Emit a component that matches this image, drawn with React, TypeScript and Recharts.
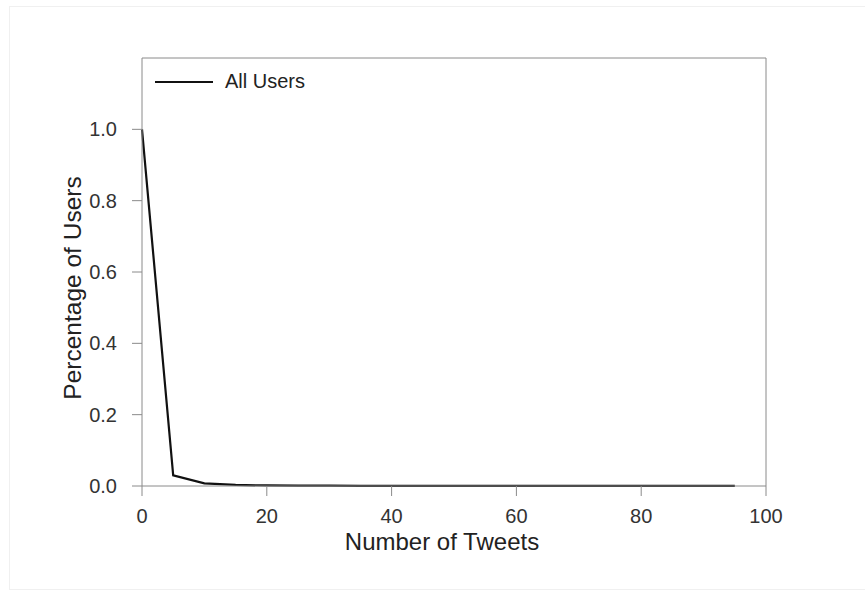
import React from "react";
import {
  LineChart,
  Line,
  XAxis,
  YAxis,
  ReferenceLine,
} from "recharts";

const tweetCounts = [0, 5, 10, 15, 20, 25, 30, 35, 40, 45, 50, 55, 60, 65, 70, 75, 80, 85, 90, 95];
const allUsers = [
  1.0, 0.03, 0.0075, 0.003, 0.0015, 0.001, 0.0008, 0.0006, 0.0005, 0.0004,
  0.0003, 0.0003, 0.0002, 0.0002, 0.0002, 0.0001, 0.0001, 0.0001, 0.0001, 0.0001,
];
const xTicks = [0, 20, 40, 60, 80, 100];
const yTicks = [0, 0.2, 0.4, 0.6, 0.8, 1.0];

const data = tweetCounts.map((x, i) => ({ x, allUsers: allUsers[i] }));

const FONT = "'Liberation Sans', Arial, sans-serif";
const AXIS = "#8a8a8a";

export default function App() {
  return (
    <div style={{ position: "relative", width: 865, height: 591, background: "#fff" }}>
      <style>{`body{margin:0}`}</style>
      <div
        style={{
          position: "absolute",
          left: 9,
          top: 6,
          width: 856,
          height: 584,
          borderLeft: "1px solid #f0f0f0",
          borderTop: "1px solid #f0f0f0",
          borderBottom: "1px solid #f0f0f0",
          boxSizing: "border-box",
        }}
      />
      <LineChart
        width={865}
        height={591}
        data={data}
        margin={{ top: 58, right: 99, bottom: 35, left: 82 }}
        style={{ position: "absolute", left: 0, top: 0 }}
      >
        <XAxis
          dataKey="x"
          type="number"
          domain={[0, 100]}
          ticks={xTicks}
          height={70}
          stroke={AXIS}
          tickSize={10}
          tickMargin={13}
          tick={{ fill: "#333", fontSize: 20, fontFamily: FONT }}
          label={{
            value: "Number of Tweets",
            position: "bottom",
            offset: -23,
            dx: -12,
            style: { fill: "#222", fontSize: 24, fontFamily: FONT },
          }}
        />
        <YAxis
          type="number"
          domain={[0, 1.2]}
          ticks={yTicks}
          width={60}
          stroke={AXIS}
          tickSize={10}
          tickMargin={15}
          tickFormatter={(v: number) => v.toFixed(1)}
          tick={{ fill: "#333", fontSize: 20, fontFamily: FONT }}
          label={{
            value: "Percentage of Users",
            angle: -90,
            position: "insideLeft",
            offset: -10,
            dy: 16,
            style: { fill: "#222", fontSize: 24.5, fontFamily: FONT, textAnchor: "middle" },
          }}
        />
        <ReferenceLine y={1.2} stroke={AXIS} />
        <ReferenceLine x={100} stroke={AXIS} />
        <Line
          type="linear"
          dataKey="allUsers"
          name="All Users"
          stroke="#111"
          strokeWidth={2.2}
          dot={false}
          isAnimationActive={false}
        />
      </LineChart>
      <div
        style={{
          position: "absolute",
          left: 155,
          top: 70,
          display: "flex",
          alignItems: "center",
          fontFamily: FONT,
          fontSize: 20,
          color: "#222",
        }}
      >
        <div style={{ width: 58, height: 2, background: "#111", marginRight: 12 }} />
        <span>All Users</span>
      </div>
    </div>
  );
}
